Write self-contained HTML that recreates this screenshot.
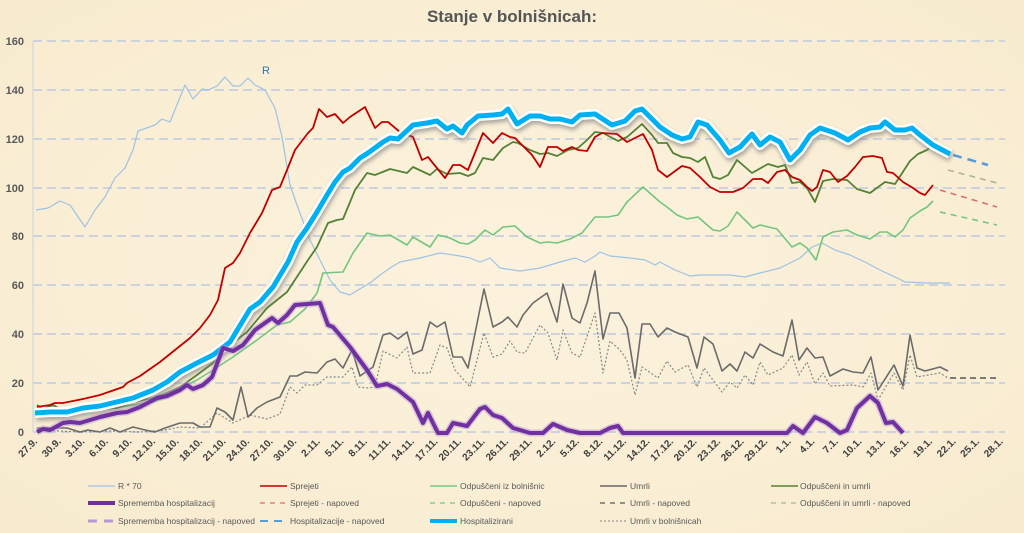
<!DOCTYPE html>
<html><head><meta charset="utf-8"><style>
body{margin:0;width:1024px;height:533px;overflow:hidden;background:#fbefd6;}
svg{display:block;font-family:"Liberation Sans",sans-serif;}
</style></head><body>
<svg width="1024" height="533" viewBox="0 0 1024 533">
<defs>
<radialGradient id="bg" cx="50%" cy="50%" r="70%"><stop offset="0" stop-color="#fcf2dd"/><stop offset="1" stop-color="#f8ebcf"/></radialGradient>
<filter id="sh" x="-5%" y="-5%" width="110%" height="110%"><feGaussianBlur stdDeviation="2"/></filter>
</defs>
<rect width="1024" height="533" fill="url(#bg)"/>
<text x="512" y="22" text-anchor="middle" font-size="17" font-weight="bold" fill="#555">Stanje v bolnišnicah:</text>
<g stroke="#ccd3df" stroke-width="2" stroke-dasharray="9,5">
<line x1="33" x2="1005" y1="41" y2="41"/><line x1="33" x2="1005" y1="90" y2="90"/><line x1="33" x2="1005" y1="139" y2="139"/><line x1="33" x2="1005" y1="188" y2="188"/><line x1="33" x2="1005" y1="236" y2="236"/><line x1="33" x2="1005" y1="285" y2="285"/><line x1="33" x2="1005" y1="334" y2="334"/><line x1="33" x2="1005" y1="383" y2="383"/><line x1="33" x2="1005" y1="432" y2="432"/>
</g>
<line x1="33" x2="33" y1="41" y2="432" stroke="#c8d3e3" stroke-width="1"/>
<g font-size="11" font-weight="bold" fill="#595959" text-anchor="end">
<text x="24" y="45">160</text><text x="24" y="94">140</text><text x="24" y="143">120</text><text x="24" y="192">100</text><text x="24" y="240">80</text><text x="24" y="289">60</text><text x="24" y="338">40</text><text x="24" y="387">20</text><text x="24" y="436">0</text>
</g>
<text x="262" y="74" font-size="11" fill="#2e75b6">R</text>
<g fill="none" stroke-linejoin="round">
<polyline stroke="#9dc3e6" stroke-width="1.2" points="36,210 48,208 60,201 70,205 85,227 95,210 105,197 115,178 125,168 133,150 138,131 155,125 162,119 170,122 185,85 193,99 202,89 208,90 217,86 225,77 233,86 240,86 248,78 255,85 265,90 275,108 282,137 290,185 297,205 310,240 320,260 330,280 340,292 350,295 358,290 370,283 380,275 390,268 400,262 420,258 440,253 460,256 470,258 480,262 490,258 500,268 520,271 540,268 560,262 575,258 585,262 595,256 600,252 610,256 630,258 645,260 655,265 660,262 675,270 690,276 700,275 720,275 730,275 745,277 760,273 780,268 800,258 812,247 822,243 835,250 850,255 865,262 880,270 895,277 905,282 925,283 950,283"/>
<polyline stroke="#888" stroke-width="1.2" stroke-dasharray="2,2" points="37,430 60,431 80,432 110,431 140,432 165,430 180,427 200,428 217,413 233,423 250,415 267,419 280,414 290,387 297,393 305,385 317,385 327,377 343,377 352,367 358,387 368,388 375,387 383,351 397,358 407,347 413,373 430,373 440,345 447,348 455,370 470,387 484,333 493,357 502,354 510,341 517,352 525,353 540,325 548,333 557,360 563,330 572,353 580,357 595,313 603,373 610,341 620,350 627,360 635,395 642,367 658,378 667,361 675,372 688,365 697,387 704,368 722,392 730,382 737,388 745,375 753,385 760,362 768,375 783,368 792,355 799,375 807,362 815,384 823,373 830,386 853,385 863,387 871,373 878,400 894,373 903,390 910,355 917,377 940,373 948,378"/>
<polyline stroke="#6b6b6b" stroke-width="1.6" points="37,428 67,428 80,432 88,430 100,432 110,428 120,432 133,427 145,430 155,432 165,428 180,423 193,423 200,427 210,427 217,408 225,412 233,420 241,387 248,417 257,408 267,402 280,397 290,376 297,376 305,372 317,373 327,362 335,359 343,368 352,350 360,376 373,367 383,335 390,333 398,339 407,332 413,354 422,350 430,322 437,327 445,322 453,357 462,357 468,368 484,289 493,327 502,322 508,317 517,327 523,315 533,303 547,293 557,322 563,284 572,318 580,323 587,303 595,271 603,339 610,313 619,313 627,328 635,378 642,324 650,324 658,337 667,328 675,332 688,337 697,368 704,337 713,344 722,371 730,364 737,371 745,352 753,358 760,344 773,352 783,356 792,320 799,360 807,348 815,358 823,357 830,376 843,369 853,372 863,373 871,357 878,390 894,365 903,386 910,335 917,368 925,371 940,367 948,371"/>
<polyline stroke="#555" stroke-width="1.6" stroke-dasharray="6,4" points="950,378 997,378"/>
<polyline stroke="#74c67f" stroke-width="1.6" points="36,410 60,408 100,410 133,405 153,402 167,397 180,388 197,380 213,370 233,357 257,340 277,325 290,322 305,309 317,293 323,273 343,272 353,253 367,233 380,236 390,235 407,245 413,237 430,247 438,235 450,238 460,243 468,244 475,240 485,230 493,235 503,227 515,226 527,237 540,243 548,242 557,243 570,239 582,233 595,217 608,217 618,215 627,202 643,187 660,202 667,207 677,215 687,219 698,217 713,230 720,231 728,226 737,212 753,228 760,225 777,229 792,247 800,243 807,248 816,260 823,237 833,232 847,230 857,235 870,239 880,232 887,232 895,237 903,230 910,218 920,211 927,207 933,201"/>
<polyline stroke="#74c67f" stroke-width="1.6" stroke-dasharray="6,5" points="940,212 997,225"/>
<polyline stroke="#548235" stroke-width="1.8" points="37,405 43,409 53,405 62,410 83,412 100,409 117,408 133,402 153,398 167,393 180,387 197,375 213,363 230,345 247,332 267,308 287,292 308,260 317,247 328,223 337,220 343,219 355,190 367,173 375,175 390,169 407,173 413,167 430,175 437,169 447,174 460,173 468,176 475,173 483,158 493,160 503,148 513,142 518,143 530,150 540,154 548,153 557,156 568,150 578,148 587,140 595,132 603,133 618,141 627,137 642,124 652,135 658,143 667,143 673,153 682,157 690,158 698,162 705,157 713,177 720,179 728,175 737,160 752,173 768,164 778,167 785,165 792,183 800,182 807,188 815,202 823,181 833,179 847,180 857,189 870,193 885,182 895,184 910,161 918,154 927,150 933,145"/>
<polyline stroke="#a9b59a" stroke-width="1.6" stroke-dasharray="6,5" points="948,170 997,183"/>
<polyline stroke="#c00000" stroke-width="1.8" points="37,407 50,405 55,403 63,403 83,399 100,395 123,387 127,383 140,376 150,369 160,362 175,350 190,338 200,328 210,315 218,300 225,268 233,263 240,253 250,233 262,213 272,190 280,187 287,170 295,150 308,133 313,128 319,109 327,117 335,114 343,123 350,117 365,107 375,128 382,122 388,122 400,132 413,137 422,160 428,157 445,178 453,165 460,165 468,170 483,133 493,143 502,133 510,137 515,138 525,148 532,155 540,167 548,147 557,147 563,151 572,147 578,150 587,151 595,137 602,133 617,134 627,142 635,138 643,134 652,150 658,170 667,177 682,166 690,168 700,177 710,187 720,192 733,192 743,188 753,179 762,179 768,183 777,172 785,170 792,177 800,180 807,187 812,191 817,187 823,170 830,172 838,182 847,176 855,167 863,157 873,156 882,158 887,172 893,173 903,182 913,188 920,193 925,195 933,185"/>
<polyline stroke="#d9706a" stroke-width="1.6" stroke-dasharray="6,5" points="940,190 997,207"/>
<g>
<polyline stroke="#777" stroke-opacity="0.6" stroke-width="10" filter="url(#sh)" transform="translate(1,3)" points="35,413 50,412 67,412 83,408 100,406 133,398 153,390 167,382 180,372 197,363 213,355 230,342 250,309 260,302 273,287 288,262 297,242 307,228 317,212 327,195 335,182 343,172 350,168 360,158 368,153 383,142 390,138 398,139 413,125 427,123 437,121 447,129 453,126 462,133 467,125 478,116 493,115 502,114 508,109 517,124 530,116 540,116 550,119 560,119 572,122 580,115 595,114 612,125 625,121 635,111 642,109 660,127 672,135 682,139 690,137 698,122 707,125 720,140 729,153 740,147 752,134 760,145 770,137 780,142 790,160 800,150 810,135 820,128 835,133 848,140 860,132 870,128 880,127 885,122 895,130 905,130 912,128 920,135 933,145 950,154"/>
<polyline stroke="#ffffff" stroke-width="10" points="35,413 50,412 67,412 83,408 100,406 133,398 153,390 167,382 180,372 197,363 213,355 230,342 250,309 260,302 273,287 288,262 297,242 307,228 317,212 327,195 335,182 343,172 350,168 360,158 368,153 383,142 390,138 398,139 413,125 427,123 437,121 447,129 453,126 462,133 467,125 478,116 493,115 502,114 508,109 517,124 530,116 540,116 550,119 560,119 572,122 580,115 595,114 612,125 625,121 635,111 642,109 660,127 672,135 682,139 690,137 698,122 707,125 720,140 729,153 740,147 752,134 760,145 770,137 780,142 790,160 800,150 810,135 820,128 835,133 848,140 860,132 870,128 880,127 885,122 895,130 905,130 912,128 920,135 933,145 950,154"/>
<polyline stroke="#00b0f0" stroke-width="5" points="35,413 50,412 67,412 83,408 100,406 133,398 153,390 167,382 180,372 197,363 213,355 230,342 250,309 260,302 273,287 288,262 297,242 307,228 317,212 327,195 335,182 343,172 350,168 360,158 368,153 383,142 390,138 398,139 413,125 427,123 437,121 447,129 453,126 462,133 467,125 478,116 493,115 502,114 508,109 517,124 530,116 540,116 550,119 560,119 572,122 580,115 595,114 612,125 625,121 635,111 642,109 660,127 672,135 682,139 690,137 698,122 707,125 720,140 729,153 740,147 752,134 760,145 770,137 780,142 790,160 800,150 810,135 820,128 835,133 848,140 860,132 870,128 880,127 885,122 895,130 905,130 912,128 920,135 933,145 950,154"/>
</g>
<polyline stroke="#5b9bd5" stroke-width="2.5" stroke-dasharray="9,6" points="953,155 988,165"/>
<polyline stroke="#b79ad3" stroke-opacity="0.5" stroke-width="7" points="37,432 43,429 50,430 63,423 70,422 80,423 100,417 117,413 127,412 140,407 157,398 167,396 180,390 187,385 193,389 203,385 212,377 223,348 233,351 243,345 255,330 272,318 278,323 287,315 295,305 320,303 328,325 333,327 350,347 367,370 377,386 387,384 397,389 413,402 423,423 428,413 438,433 447,433 453,423 467,426 480,409 485,407 493,415 502,418 513,428 530,433 543,433 553,424 567,430 580,433 600,433 610,428 618,426 623,433 787,433 793,426 803,433 815,417 827,423 840,433 847,430 857,408 870,396 878,403 886,423 893,422 903,433"/>
<polyline stroke="#7030a0" stroke-width="4" points="37,432 43,429 50,430 63,423 70,422 80,423 100,417 117,413 127,412 140,407 157,398 167,396 180,390 187,385 193,389 203,385 212,377 223,348 233,351 243,345 255,330 272,318 278,323 287,315 295,305 320,303 328,325 333,327 350,347 367,370 377,386 387,384 397,389 413,402 423,423 428,413 438,433 447,433 453,423 467,426 480,409 485,407 493,415 502,418 513,428 530,433 543,433 553,424 567,430 580,433 600,433 610,428 618,426 623,433 787,433 793,426 803,433 815,417 827,423 840,433 847,430 857,408 870,396 878,403 886,423 893,422 903,433"/>
</g>
<g font-size="10" font-weight="bold" fill="#404040" text-anchor="end">
<text transform="translate(38,442) rotate(-45)">27.9.</text><text transform="translate(61.6,442) rotate(-45)">30.9.</text><text transform="translate(85.1,442) rotate(-45)">3.10.</text><text transform="translate(108.7,442) rotate(-45)">6.10.</text><text transform="translate(132.2,442) rotate(-45)">9.10.</text><text transform="translate(155.8,442) rotate(-45)">12.10.</text><text transform="translate(179.3,442) rotate(-45)">15.10.</text><text transform="translate(202.9,442) rotate(-45)">18.10.</text><text transform="translate(226.4,442) rotate(-45)">21.10.</text><text transform="translate(250,442) rotate(-45)">24.10.</text><text transform="translate(273.5,442) rotate(-45)">27.10.</text><text transform="translate(297.1,442) rotate(-45)">30.10.</text><text transform="translate(320.6,442) rotate(-45)">2.11.</text><text transform="translate(344.2,442) rotate(-45)">5.11.</text><text transform="translate(367.7,442) rotate(-45)">8.11.</text><text transform="translate(391.3,442) rotate(-45)">11.11.</text><text transform="translate(414.8,442) rotate(-45)">14.11.</text><text transform="translate(438.4,442) rotate(-45)">17.11.</text><text transform="translate(461.9,442) rotate(-45)">20.11.</text><text transform="translate(485.5,442) rotate(-45)">23.11.</text><text transform="translate(509,442) rotate(-45)">26.11.</text><text transform="translate(532.6,442) rotate(-45)">29.11.</text><text transform="translate(556.1,442) rotate(-45)">2.12.</text><text transform="translate(579.7,442) rotate(-45)">5.12.</text><text transform="translate(603.2,442) rotate(-45)">8.12.</text><text transform="translate(626.8,442) rotate(-45)">11.12.</text><text transform="translate(650.3,442) rotate(-45)">14.12.</text><text transform="translate(673.9,442) rotate(-45)">17.12.</text><text transform="translate(697.4,442) rotate(-45)">20.12.</text><text transform="translate(721,442) rotate(-45)">23.12.</text><text transform="translate(744.5,442) rotate(-45)">26.12.</text><text transform="translate(768.1,442) rotate(-45)">29.12.</text><text transform="translate(791.6,442) rotate(-45)">1.1.</text><text transform="translate(815.2,442) rotate(-45)">4.1.</text><text transform="translate(838.7,442) rotate(-45)">7.1.</text><text transform="translate(862.3,442) rotate(-45)">10.1.</text><text transform="translate(885.8,442) rotate(-45)">13.1.</text><text transform="translate(909.4,442) rotate(-45)">16.1.</text><text transform="translate(932.9,442) rotate(-45)">19.1.</text><text transform="translate(956.5,442) rotate(-45)">22.1.</text><text transform="translate(980,442) rotate(-45)">25.1.</text><text transform="translate(1003.6,442) rotate(-45)">28.1.</text>
</g>
<g font-size="8.5" fill="#595959">
<line x1="88" x2="115" y1="486" y2="486" stroke="#9dc3e6" stroke-width="1.2"/><text x="118" y="489">R * 70</text>
<line x1="260" x2="287" y1="486" y2="486" stroke="#c00000" stroke-width="1.5"/><text x="290" y="489">Sprejeti</text>
<line x1="430" x2="457" y1="486" y2="486" stroke="#74c67f" stroke-width="1.5"/><text x="460" y="489">Odpuščeni iz bolnišnic</text>
<line x1="600" x2="627" y1="486" y2="486" stroke="#666" stroke-width="1.5"/><text x="630" y="489">Umrli</text>
<line x1="771" x2="798" y1="486" y2="486" stroke="#548235" stroke-width="1.5"/><text x="800" y="489">Odpuščeni in umrli</text>
<line x1="88" x2="115" y1="503" y2="503" stroke="#7030a0" stroke-width="4"/><text x="118" y="506">Sprememba hospitalizacij</text>
<line x1="260" x2="287" y1="503" y2="503" stroke="#d9706a" stroke-width="1.2" stroke-dasharray="5,5"/><text x="290" y="506">Sprejeti - napoved</text>
<line x1="430" x2="457" y1="503" y2="503" stroke="#74c67f" stroke-width="1.2" stroke-dasharray="5,5"/><text x="460" y="506">Odpuščeni - napoved</text>
<line x1="600" x2="627" y1="503" y2="503" stroke="#555" stroke-width="1.2" stroke-dasharray="5,5"/><text x="630" y="506">Umrli - napoved</text>
<line x1="771" x2="798" y1="503" y2="503" stroke="#a9b59a" stroke-width="1.2" stroke-dasharray="5,5"/><text x="800" y="506">Odpuščeni in umrli - napoved</text>
<line x1="88" x2="115" y1="521" y2="521" stroke="#b79ad3" stroke-width="3" stroke-dasharray="9,7"/><text x="118" y="524">Sprememba hospitalizacij - napoved</text>
<line x1="260" x2="287" y1="521" y2="521" stroke="#5b9bd5" stroke-width="2" stroke-dasharray="8,6"/><text x="290" y="524">Hospitalizacije - napoved</text>
<line x1="430" x2="457" y1="521" y2="521" stroke="#00b0f0" stroke-width="4"/><text x="460" y="524">Hospitalizirani</text>
<line x1="600" x2="627" y1="521" y2="521" stroke="#888" stroke-width="1" stroke-dasharray="2,2"/><text x="630" y="524">Umrli v bolnišnicah</text>
</g>
</svg>
</body></html>
